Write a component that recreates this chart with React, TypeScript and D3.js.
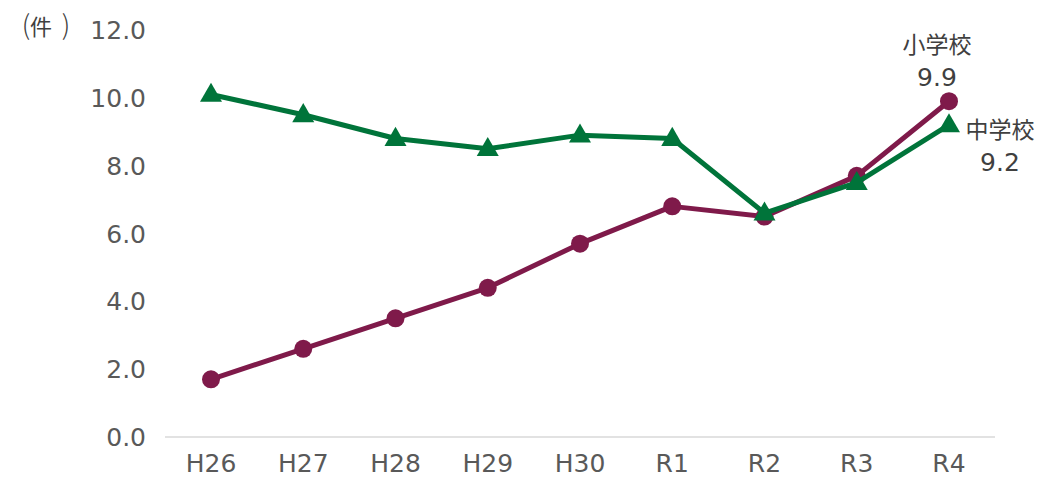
import React, { useEffect, useRef } from "react";
import * as d3 from "d3";

const years = ["H26", "H27", "H28", "H29", "H30", "R1", "R2", "R3", "R4"];
const elementary = [1.7, 2.6, 3.5, 4.4, 5.7, 6.8, 6.5, 7.7, 9.9];
const junior = [10.1, 9.5, 8.8, 8.5, 8.9, 8.8, 6.6, 7.5, 9.2];
const yTicks = [0, 2, 4, 6, 8, 10, 12];

const FONT = "'DejaVu Sans', 'Noto Sans CJK JP', sans-serif";
const JFONT = "'Noto Sans CJK JP', sans-serif";

function App() {
  const ref = useRef<SVGSVGElement>(null);

  useEffect(() => {
    const svg = d3.select(ref.current);
    svg.selectAll("*").remove();

    const x = d3.scalePoint<string>().domain(years).range([211, 949]);
    const y = d3.scaleLinear().domain([0, 12]).range([437, 30]);

    // y tick labels
    svg
      .append("g")
      .selectAll("text")
      .data(yTicks)
      .enter()
      .append("text")
      .attr("x", 146)
      .attr("y", (d) => y(d))
      .attr("dy", "0.36em")
      .attr("text-anchor", "end")
      .attr("font-family", FONT)
      .attr("font-size", 25)
      .attr("fill", "#595959")
      .text((d) => d.toFixed(1));

    // unit label, spaced like full-width brackets
    const unit = svg
      .append("text")
      .attr("y", 27)
      .attr("dy", "0.36em")
      .attr("font-family", JFONT)
      .attr("font-size", 22)
      .attr("fill", "#404040")
      .attr("text-anchor", "middle");
    unit.append("tspan").attr("x", 26).attr("font-size", 27).attr("font-weight", 300).text("(");
    unit.append("tspan").attr("x", 41).text("件");
    unit.append("tspan").attr("x", 66).attr("font-size", 27).attr("font-weight", 300).text(")");

    // x axis line
    svg
      .append("line")
      .attr("x1", 165)
      .attr("x2", 995)
      .attr("y1", y(0))
      .attr("y2", y(0))
      .attr("stroke", "#d9d9d9")
      .attr("stroke-width", 1.5);

    svg
      .append("g")
      .selectAll("text")
      .data(years)
      .enter()
      .append("text")
      .attr("x", (d) => x(d)!)
      .attr("y", 463)
      .attr("dy", "0.36em")
      .attr("text-anchor", "middle")
      .attr("font-family", FONT)
      .attr("font-size", 25)
      .attr("fill", "#595959")
      .text((d) => d);

    const line = d3
      .line<number>()
      .x((d, i) => x(years[i])!)
      .y((d) => y(d));

    // elementary (purple)
    const purple = "#7f1a4a";
    svg
      .append("path")
      .datum(elementary)
      .attr("d", line)
      .attr("fill", "none")
      .attr("stroke", purple)
      .attr("stroke-width", 5)
      .attr("stroke-linejoin", "round");
    svg
      .append("g")
      .selectAll("circle")
      .data(elementary)
      .enter()
      .append("circle")
      .attr("cx", (d, i) => x(years[i])!)
      .attr("cy", (d) => y(d))
      .attr("r", 9)
      .attr("fill", purple);

    // junior (green)
    const green = "#00743a";
    svg
      .append("path")
      .datum(junior)
      .attr("d", line)
      .attr("fill", "none")
      .attr("stroke", green)
      .attr("stroke-width", 5)
      .attr("stroke-linejoin", "round");
    svg
      .append("g")
      .selectAll("path")
      .data(junior)
      .enter()
      .append("path")
      .attr("d", d3.symbol().type(d3.symbolTriangle).size(210)())
      .attr("transform", (d, i) => `translate(${x(years[i])},${y(d) + 1})`)
      .attr("fill", green);

    // end labels
    const labels = [
      { name: "小学校", value: elementary[8], cx: 937, top: 45 },
      { name: "中学校", value: junior[8], cx: 1000, top: 130 },
    ];
    labels.forEach((l) => {
      svg
        .append("text")
        .attr("x", l.cx)
        .attr("y", l.top)
        .attr("dy", "0.36em")
        .attr("text-anchor", "middle")
        .attr("font-family", JFONT)
        .attr("font-size", 23)
        .attr("fill", "#404040")
        .text(l.name);
      svg
        .append("text")
        .attr("x", l.cx)
        .attr("y", l.top + 32)
        .attr("dy", "0.36em")
        .attr("text-anchor", "middle")
        .attr("font-family", FONT)
        .attr("font-size", 25)
        .attr("fill", "#404040")
        .text(l.value.toFixed(1));
    });
  }, []);

  return (
    <svg
      ref={ref}
      width={1055}
      height={481}
      style={{ position: "absolute", left: 0, top: 0 }}
    />
  );
}

export default App;
